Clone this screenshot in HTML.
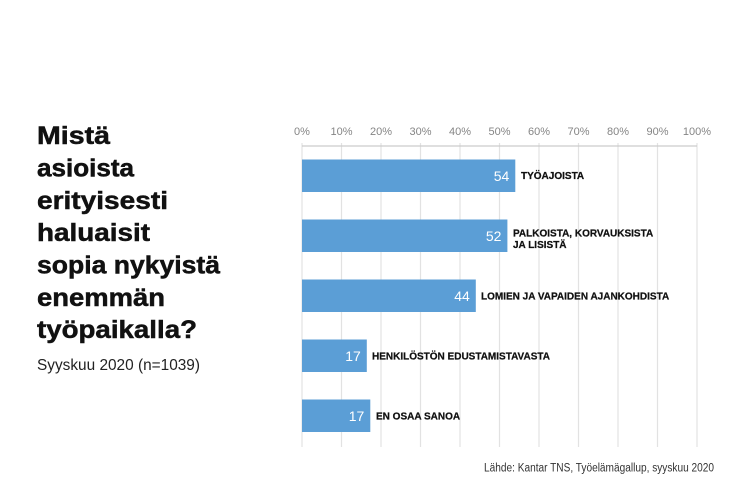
<!DOCTYPE html>
<html>
<head>
<meta charset="utf-8">
<style>
  html, body { margin: 0; padding: 0; background: #ffffff; }
  svg { display: block; }
  text { font-family: "Liberation Sans", "DejaVu Sans", sans-serif; }
</style>
</head>
<body>
<svg width="750" height="500" viewBox="0 0 750 500" xmlns="http://www.w3.org/2000/svg">
  <rect x="0" y="0" width="750" height="500" fill="#ffffff"/>

  <!-- Title -->
  <g font-weight="bold" font-size="25" fill="#111111" stroke="#111111" stroke-width="0.5">
    <text x="37" y="144" textLength="73" lengthAdjust="spacingAndGlyphs">Mistä</text>
    <text x="37" y="176.5" textLength="97" lengthAdjust="spacingAndGlyphs">asioista</text>
    <text x="37" y="209" textLength="131" lengthAdjust="spacingAndGlyphs">erityisesti</text>
    <text x="37" y="241" textLength="113" lengthAdjust="spacingAndGlyphs">haluaisit</text>
    <text x="37" y="273.5" textLength="183" lengthAdjust="spacingAndGlyphs">sopia nykyistä</text>
    <text x="37" y="306" textLength="128" lengthAdjust="spacingAndGlyphs">enemmän</text>
    <text x="37" y="338" textLength="160" lengthAdjust="spacingAndGlyphs">työpaikalla?</text>
  </g>
  <text x="37" y="370" font-size="16" fill="#222222" textLength="163" lengthAdjust="spacingAndGlyphs">Syyskuu 2020 (n=1039)</text>

  <!-- Grid lines -->
  <g stroke="#e2e2e2" stroke-width="1.2">
    <line x1="302" y1="143" x2="302" y2="447"/>
    <line x1="341.5" y1="143" x2="341.5" y2="447"/>
    <line x1="381" y1="143" x2="381" y2="447"/>
    <line x1="420.5" y1="143" x2="420.5" y2="447"/>
    <line x1="460" y1="143" x2="460" y2="447"/>
    <line x1="499.5" y1="143" x2="499.5" y2="447"/>
    <line x1="539" y1="143" x2="539" y2="447"/>
    <line x1="578.5" y1="143" x2="578.5" y2="447"/>
    <line x1="618" y1="143" x2="618" y2="447"/>
    <line x1="657.5" y1="143" x2="657.5" y2="447"/>
    <line x1="697" y1="143" x2="697" y2="447"/>
  </g>
  <line x1="302" y1="146" x2="697" y2="146" stroke="#cccccc" stroke-width="1.2"/>

  <!-- Tick labels -->
  <g font-size="11" fill="#858585" text-anchor="middle">
    <text x="302" y="135">0%</text>
    <text x="341.5" y="135">10%</text>
    <text x="381" y="135">20%</text>
    <text x="420.5" y="135">30%</text>
    <text x="460" y="135">40%</text>
    <text x="499.5" y="135">50%</text>
    <text x="539" y="135">60%</text>
    <text x="578.5" y="135">70%</text>
    <text x="618" y="135">80%</text>
    <text x="657.5" y="135">90%</text>
    <text x="697" y="135">100%</text>
  </g>

  <!-- Bars -->
  <g fill="#5b9ed6">
    <rect x="302" y="159.5" width="213.3" height="32.5"/>
    <rect x="302" y="219.5" width="205.4" height="32.5"/>
    <rect x="302" y="279.5" width="173.8" height="32.5"/>
    <rect x="302" y="339.5" width="64.8" height="32.5"/>
    <rect x="302" y="399.5" width="68.3" height="32.5"/>
  </g>

  <!-- Values -->
  <g font-size="14" fill="#ffffff" text-anchor="end">
    <text x="509.3" y="180.8">54</text>
    <text x="501.4" y="240.8">52</text>
    <text x="469.8" y="300.8">44</text>
    <text x="360.8" y="360.8">17</text>
    <text x="364.3" y="420.8">17</text>
  </g>

  <!-- Category labels -->
  <g font-size="10" font-weight="bold" fill="#111111" stroke="#111111" stroke-width="0.25">
    <text x="521" y="179">TYÖAJOISTA</text>
    <text x="513" y="236.5">PALKOISTA, KORVAUKSISTA</text>
    <text x="513" y="248">JA LISISTÄ</text>
    <text x="481" y="299.5">LOMIEN JA VAPAIDEN AJANKOHDISTA</text>
    <text x="372" y="359.5">HENKILÖSTÖN EDUSTAMISTAVASTA</text>
    <text x="376" y="419.5">EN OSAA SANOA</text>
  </g>

  <!-- Source -->
  <text x="484" y="471.5" font-size="11.5" fill="#333333" textLength="230" lengthAdjust="spacingAndGlyphs">Lähde: Kantar TNS, Työelämägallup, syyskuu 2020</text>
</svg>
</body>
</html>
